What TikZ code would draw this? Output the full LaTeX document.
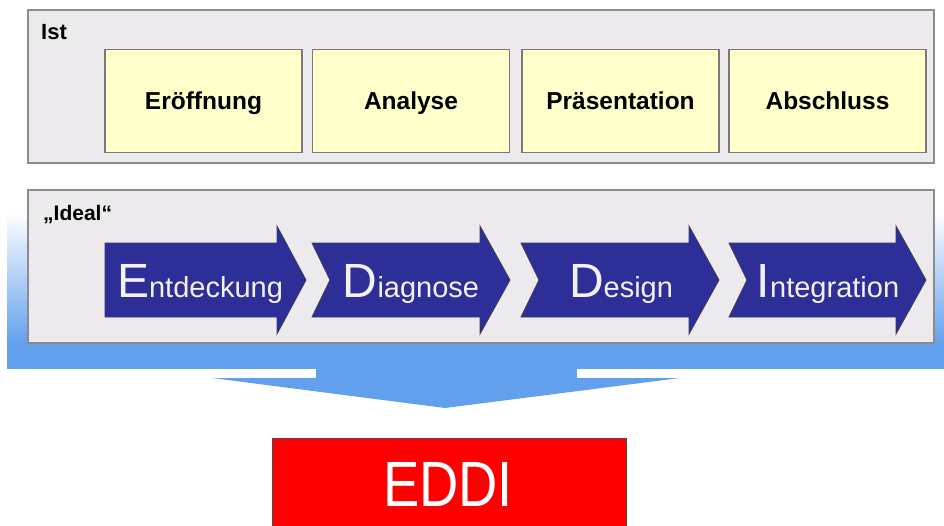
\documentclass[tikz,border=0pt]{standalone}
\usepackage{fontspec}
\setmainfont{Liberation Sans}
\definecolor{panelfill}{HTML}{ECEAEC}
\definecolor{panelline}{HTML}{8C8C8C}
\definecolor{yellowfill}{HTML}{FFFFCC}
\definecolor{yellowline}{HTML}{7A7A7A}
\definecolor{chevblue}{HTML}{2E2E98}
\definecolor{chevline}{HTML}{3A3A5A}
\definecolor{bandblue}{HTML}{62A0EE}
\definecolor{eddired}{HTML}{FF0000}
\begin{document}
\begin{tikzpicture}[x=1pt,y=-1pt,
  panel/.style={draw=panelline,line width=1.6pt,fill=panelfill},
  ybox/.style={draw=yellowline,line width=1.3pt,fill=yellowfill,minimum width=197pt,minimum height=103pt,inner sep=0pt,text height=17.5pt,text depth=1.5pt,font=\bfseries\fontsize{24.5}{28}\selectfont},
  chev/.style={draw=chevline,line width=0.8pt,fill=chevblue},
  chevtext/.style={anchor=base,text=white!95!black,inner sep=0pt},
  lbl/.style={anchor=base west,inner sep=0pt,font=\bfseries}]
\useasboundingbox (0,0) rectangle (944,525);
\fill[white] (0,0) rectangle (944,525);
% blue band and big down arrow
\shade[top color=white,bottom color=bandblue] (7,212) rectangle (944,344);
\fill[bandblue] (7,343) rectangle (944,369);
\fill[bandblue] (316,368) rectangle (577,379);
\fill[bandblue] (212,378) -- (680,378) -- (445,408) -- cycle;
% Ist panel
\draw[panel] (28,10) rectangle (934,163);
\node[lbl,font=\bfseries\fontsize{22}{26}\selectfont] (ist) at (41,39) {Ist};
\node[ybox] (eroeff) at (203.5,101) {Eröffnung};
\node[ybox] (analyse) at (411,101) {Analyse};
\node[ybox] (praes) at (620.5,101) {Präsentation};
\node[ybox] (abschl) at (827.5,101) {Abschluss};
% Ideal panel
\draw[panel] (28,190) rectangle (934,343);
\node[lbl,font=\bfseries\fontsize{21}{25}\selectfont] (ideal) at (43,220) {„Ideal“};
% chevrons
\draw[chev] (105,243) -- (277,243) -- (277,226) -- (306,280) -- (277,334) -- (277,317) -- (105,317) -- cycle;
\draw[chev] (312,243) -- (480,243) -- (480,226) -- (510,280) -- (480,334) -- (480,317) -- (312,317) -- (330,280) -- cycle;
\draw[chev] (521,243) -- (689,243) -- (689,226) -- (719,280) -- (689,334) -- (689,317) -- (521,317) -- (539,280) -- cycle;
\draw[chev] (729,243) -- (896,243) -- (896,226) -- (926,280) -- (896,334) -- (896,317) -- (729,317) -- (747,280) -- cycle;
\node[chevtext] (entd) at (200,297.5) {{\fontsize{48}{48}\selectfont E}{\fontsize{29}{29}\selectfont ntdeckung}};
\node[chevtext] (diag) at (411,297.5) {{\fontsize{48}{48}\selectfont D}{\fontsize{29}{29}\selectfont iagnose}};
\node[chevtext] (desi) at (621,297.5) {{\fontsize{48}{48}\selectfont D}{\fontsize{29}{29}\selectfont esign}};
\node[chevtext] (integ) at (828,297.5) {{\fontsize{48}{48}\selectfont I}{\fontsize{29}{29}\selectfont ntegration}};
% EDDI
\draw[draw=black!70,line width=1pt,fill=eddired] (272,438) rectangle (626,530);
\node[anchor=base,inner sep=0pt,text=white,xscale=0.85,font=\fontsize{64}{64}\selectfont] (eddi) at (448,506) {EDDI};
\end{tikzpicture}
\end{document}
